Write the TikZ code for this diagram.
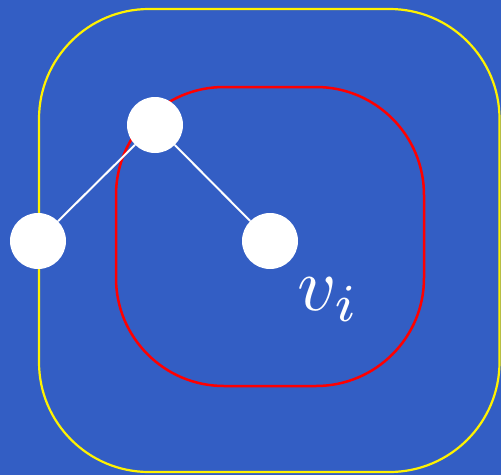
\documentclass[tikz,border=0pt]{standalone}
\usepackage{xcolor}
\definecolor{bgblue}{RGB}{51,94,196}
\begin{document}
\begin{tikzpicture}[x=1pt,y=-1pt,
  vert/.style={circle,fill=white,draw=none,minimum size=56pt,inner sep=0pt},
  edge/.style={white,line width=2pt}]
\fill[bgblue] (0,0) rectangle (501,475);
\useasboundingbox (0,0) rectangle (501,475);
\draw[yellow,line width=2.2pt,rounded corners=110pt] (39,9) rectangle (499.5,472);
\draw[red,line width=2.5pt,rounded corners=108pt] (116,87) rectangle (424,386);
\node[vert] (a) at (155,125) {};
\node[vert] (b) at (38,241) {};
\node[vert] (c) at (270,241) {};
\draw[edge] (a) -- (b);
\draw[edge] (a) -- (c);
\node[anchor=base west,inner sep=0pt,text=white] (lbl) at (297,310) {\scalebox{7.6}{$v_i$}};
\end{tikzpicture}
\end{document}
